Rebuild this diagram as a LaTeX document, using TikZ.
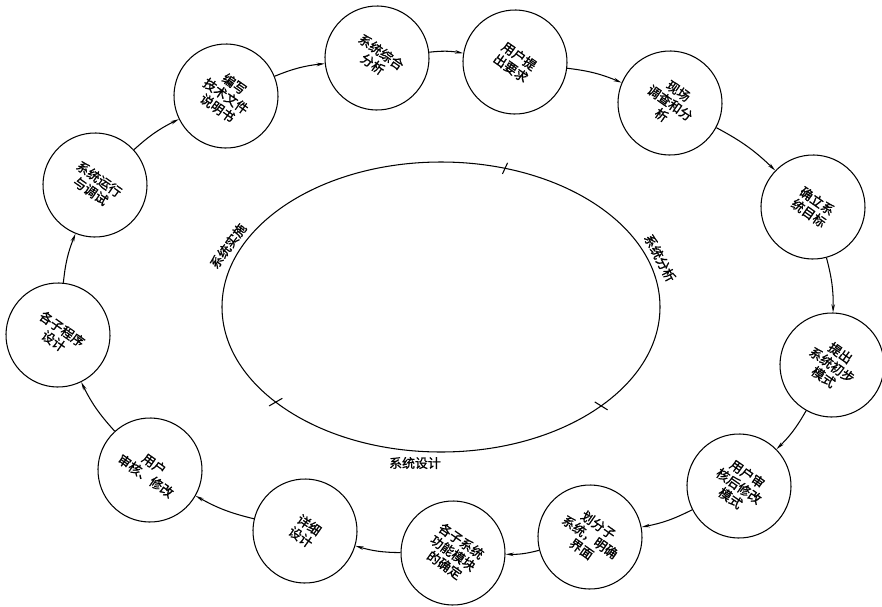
\documentclass[tikz,border=0pt]{standalone}
\usepackage{fontspec}
\newfontfamily\cjk[FakeBold=1.2]{Noto Sans CJK SC}
\usetikzlibrary{arrows.meta}

\begin{document}
\begin{tikzpicture}[x=0.03cm,y=-0.03cm,line width=0.9pt,
    stage/.style={draw,circle,minimum size=3.12cm,inner sep=0pt,align=center,
      rotate=-35,font=\cjk\fontsize{11}{12.5}\selectfont},
    flow/.style={-{Stealth[length=7pt,width=3pt]},bend left=8},
    phase/.style={font=\cjk\fontsize{11}{13}\selectfont}]
  \useasboundingbox (0,0) rectangle (882,606);
  \node[stage] (s1) at (377,58) {系统综合\\分析};
  \node[stage] (s2) at (515,62) {用户提\\出要求};
  \node[stage] (s3) at (670,103) {现场\\调查和分\\析};
  \node[stage] (s4) at (813,207) {确立系\\统目标};
  \node[stage] (s5) at (832,365) {提出\\系统初步\\模式};
  \node[stage] (s6) at (739,486) {用户审\\核后修改\\模式};
  \node[stage] (s7) at (590,537) {划分子\\系统，明确\\界面};
  \node[stage] (s8) at (453,553) {各子系统\\功能模块\\的确定};
  \node[stage] (s9) at (305,531) {详细\\设计};
  \node[stage] (s10) at (150,470) {用户\\审核、修改};
  \node[stage] (s11) at (58,335) {各子程序\\设计};
  \node[stage] (s12) at (95,185) {系统运行\\与调试};
  \node[stage] (s13) at (226,96) {编写\\技术文件\\说明书};
  \draw[flow] (s1) to (s2);
  \draw[flow] (s2) to (s3);
  \draw[flow] (s3) to (s4);
  \draw[flow] (s4) to (s5);
  \draw[flow] (s5) to (s6);
  \draw[flow] (s6) to (s7);
  \draw[flow] (s7) to (s8);
  \draw[flow] (s8) to (s9);
  \draw[flow] (s9) to (s10);
  \draw[flow] (s10) to (s11);
  \draw[flow] (s11) to (s12);
  \draw[flow] (s12) to (s13);
  \draw[flow] (s13) to (s1);
  \draw (441,307) ellipse [x radius=219,y radius=145];
  \draw ({441+0.96*219*cos(73)},{307-0.96*145*sin(73)}) -- ({441+1.04*219*cos(73)},{307-1.04*145*sin(73)});
  \draw ({441+0.96*219*cos(221)},{307-0.96*145*sin(221)}) -- ({441+1.04*219*cos(221)},{307-1.04*145*sin(221)});
  \draw ({441+0.96*219*cos(317)},{307-0.96*145*sin(317)}) -- ({441+1.04*219*cos(317)},{307-1.04*145*sin(317)});
  \node[phase,rotate=54] (impl) at (228,246) {系统实施};
  \node[phase,rotate=-62] (anal) at (660,258) {系统分析};
  \node[phase] (desg) at (415,463) {系统设计};
\end{tikzpicture}
\end{document}
